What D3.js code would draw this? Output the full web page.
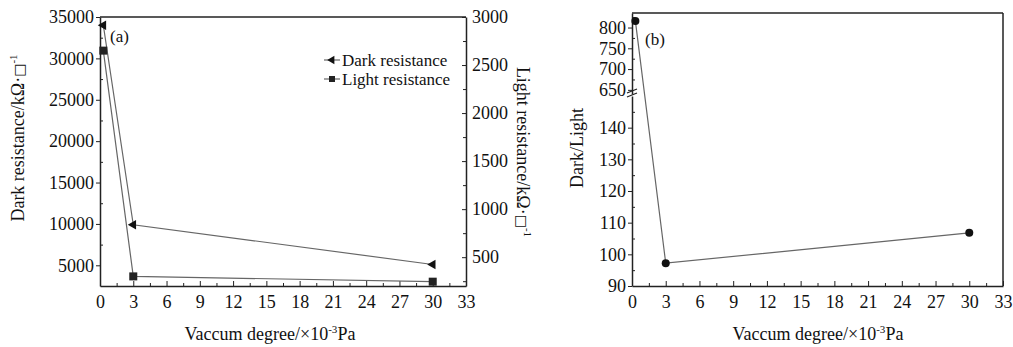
<!DOCTYPE html>
<html>
<head>
<meta charset="utf-8">
<script src="https://cdn.jsdelivr.net/npm/d3@7"></script>
<style>
body { margin: 0; background: #fff; }
text { font-family: "Liberation Serif", "DejaVu Serif", serif; fill: #111; }
.domain { stroke: #222; stroke-width: 1.5; }
.tick line { stroke: #222; stroke-width: 1; }
.sq { font-family: "DejaVu Sans", sans-serif; fill: #111; }
</style>
</head>
<body>
<script>
var width = 1013;
var height = 347;

// data
var vacuum = [0.3, 3, 30];
var darkRes = [34000, 9900, 5100];
var lightRes = [2650, 300, 245];
var ratio = [816, 97.2, 106.8];

var xTicks = [0, 3, 6, 9, 12, 15, 18, 21, 24, 27, 30, 33];
var darkTicks = [5000, 10000, 15000, 20000, 25000, 30000, 35000];
var lightTicks = [500, 1000, 1500, 2000, 2500, 3000];
var ratioTicksUp = [650, 700, 750, 800];
var ratioTicksLow = [90, 100, 110, 120, 130, 140];

var svg = d3.select("body").append("svg")
    .attr("width", width)
    .attr("height", height);

var lineColor = "#666";
var fs = "18px";
var fmt = d3.format("d");

function bigText(g) { g.selectAll("text").style("font-size", fs); }

// ---------- panel (a) ----------
var xA = d3.scaleLinear().domain([0, 33]).range([100, 466]);
var yDark = d3.scaleLinear().domain([2500, 35000]).range([286, 17]);
var yLight = d3.scaleLinear().domain([200, 3000]).range([286, 17]);

var gA = svg.append("g");

// frame top
gA.append("line").attr("x1", 100).attr("x2", 466).attr("y1", 17).attr("y2", 17)
    .attr("stroke", "#222").attr("stroke-width", 1.5);

// x axis
gA.append("g").attr("transform", "translate(0,286)")
    .call(d3.axisBottom(xA).tickValues(xTicks).tickFormat(fmt).tickSizeInner(-5).tickSizeOuter(0).tickPadding(9))
    .call(bigText);
gA.append("g").attr("transform", "translate(0,286)")
    .call(d3.axisBottom(xA).tickValues(d3.range(1.5, 33, 3)).tickSize(-3).tickFormat(""))
    .call(function(g) { g.select(".domain").remove(); });

// left axis
gA.append("g").attr("transform", "translate(100,0)")
    .call(d3.axisLeft(yDark).tickValues(darkTicks).tickFormat(fmt).tickSizeInner(4).tickSizeOuter(0).tickPadding(2))
    .call(bigText);
gA.append("g").attr("transform", "translate(100,0)")
    .call(d3.axisLeft(yDark).tickValues([7500, 12500, 17500, 22500, 27500, 32500]).tickSize(-3).tickFormat(""))
    .call(function(g) { g.select(".domain").remove(); });

// right axis
gA.append("g").attr("transform", "translate(466,0)")
    .call(d3.axisRight(yLight).tickValues(lightTicks).tickFormat(fmt).tickSizeInner(-4).tickSizeOuter(0).tickPadding(6))
    .call(bigText);
gA.append("g").attr("transform", "translate(466,0)")
    .call(d3.axisRight(yLight).tickValues([250, 750, 1250, 1750, 2250, 2750]).tickSize(-3).tickFormat(""))
    .call(function(g) { g.select(".domain").remove(); });

// lines
var darkPts = vacuum.map(function(v, i) { return [xA(v), yDark(darkRes[i])]; });
var lightPts = vacuum.map(function(v, i) { return [xA(v), yLight(lightRes[i])]; });
gA.append("path").attr("d", d3.line()(darkPts))
    .attr("fill", "none").attr("stroke", lineColor).attr("stroke-width", 1.2);
gA.append("path").attr("d", d3.line()(lightPts))
    .attr("fill", "none").attr("stroke", lineColor).attr("stroke-width", 1.2);

var tri = d3.symbol().type(d3.symbolTriangle).size(40);
gA.selectAll(".dark").data(darkPts).enter().append("path")
    .attr("class", "dark")
    .attr("d", tri)
    .attr("transform", function(d) { return "translate(" + d[0] + "," + d[1] + ") rotate(-90)"; })
    .attr("fill", "#111");
gA.selectAll(".light").data(lightPts).enter().append("rect")
    .attr("class", "light")
    .attr("x", function(d) { return d[0] - 4; })
    .attr("y", function(d) { return d[1] - 4; })
    .attr("width", 8).attr("height", 8)
    .attr("fill", "#222");

// legend
var legendLabels = ["Dark resistance", "Light resistance"];
var legend = gA.selectAll(".legend").data(legendLabels).enter().append("g")
    .attr("class", "legend")
    .attr("transform", function(d, i) { return "translate(324," + (60 + i * 19) + ")"; });
legend.append("line").attr("x1", 0).attr("x2", 16).attr("y1", 0).attr("y2", 0)
    .attr("stroke", lineColor).attr("stroke-width", 1.2);
legend.each(function(d, i) {
    var g = d3.select(this);
    if (i == 0) {
        g.append("path").attr("d", d3.symbol().type(d3.symbolTriangle).size(30))
            .attr("transform", "translate(8,0) rotate(-90)").attr("fill", "#111");
    } else {
        g.append("rect").attr("x", 5).attr("y", -3).attr("width", 6).attr("height", 6).attr("fill", "#222");
    }
});
legend.append("text").attr("x", 18).attr("y", 5.5)
    .style("font-size", "17px")
    .text(function(d) { return d; });

gA.append("text").attr("x", 110).attr("y", 42).style("font-size", "17px").text("(a)");

// axis titles
svg.append("text")
    .attr("transform", "translate(24,138) rotate(-90)")
    .attr("text-anchor", "middle")
    .style("font-size", fs)
    .html("Dark resistance/kΩ·<tspan class='sq' font-size='14px'>□</tspan><tspan dy='-7' font-size='11px'>-1</tspan>");
svg.append("text")
    .attr("transform", "translate(517,152) rotate(90)")
    .attr("text-anchor", "middle")
    .style("font-size", fs)
    .html("Light resistance/kΩ·<tspan class='sq' font-size='14px'>□</tspan><tspan dy='-7' font-size='11px'>-1</tspan>");
svg.append("text")
    .attr("x", 270).attr("y", 340)
    .attr("text-anchor", "middle")
    .style("font-size", fs)
    .html("Vaccum degree/×10<tspan dy='-7' font-size='11px'>-3</tspan><tspan dy='7'>Pa</tspan>");

// ---------- panel (b) ----------
var xB = d3.scaleLinear().domain([0, 33]).range([632, 1003]);
var yUp = d3.scaleLinear().domain([640, 835]).range([94, 13]);
var yLow = d3.scaleLinear().domain([90, 150]).range([286, 96]);

var gB = svg.append("g");

gB.append("line").attr("x1", 632).attr("x2", 1003).attr("y1", 13).attr("y2", 13)
    .attr("stroke", "#222").attr("stroke-width", 1.5);
gB.append("line").attr("x1", 1003).attr("x2", 1003).attr("y1", 13).attr("y2", 286)
    .attr("stroke", "#222").attr("stroke-width", 1.5);

gB.append("g").attr("transform", "translate(0,286)")
    .call(d3.axisBottom(xB).tickValues(xTicks).tickFormat(fmt).tickSizeInner(-5).tickSizeOuter(0).tickPadding(9))
    .call(bigText);
gB.append("g").attr("transform", "translate(0,286)")
    .call(d3.axisBottom(xB).tickValues(d3.range(1.5, 33, 3)).tickSize(-3).tickFormat(""))
    .call(function(g) { g.select(".domain").remove(); });

// broken left axis: upper part
gB.append("g").attr("transform", "translate(632,0)")
    .call(d3.axisLeft(yUp).tickValues(ratioTicksUp).tickFormat(fmt).tickSizeInner(4).tickSizeOuter(0).tickPadding(2))
    .call(bigText);
gB.append("g").attr("transform", "translate(632,0)")
    .call(d3.axisLeft(yUp).tickValues([675, 725, 775, 825]).tickSize(-3).tickFormat(""))
    .call(function(g) { g.select(".domain").remove(); });
// lower part
gB.append("g").attr("transform", "translate(632,0)")
    .call(d3.axisLeft(yLow).tickValues(ratioTicksLow).tickFormat(fmt).tickSizeInner(4).tickSizeOuter(0).tickPadding(2))
    .call(bigText);
gB.append("g").attr("transform", "translate(632,0)")
    .call(d3.axisLeft(yLow).tickValues([95, 105, 115, 125, 135, 145]).tickSize(-3).tickFormat(""))
    .call(function(g) { g.select(".domain").remove(); });

// break marks
[0, 4].forEach(function(o) {
    gB.append("line")
        .attr("x1", 627).attr("x2", 637)
        .attr("y1", 93 + o).attr("y2", 89 + o)
        .attr("stroke", "#222").attr("stroke-width", 1.2);
});

function yRatio(v) { return v > 600 ? yUp(v) : yLow(v); }
var ratioPts = vacuum.map(function(v, i) { return [xB(v), yRatio(ratio[i])]; });
gB.append("path").attr("d", d3.line()(ratioPts))
    .attr("fill", "none").attr("stroke", lineColor).attr("stroke-width", 1.2);
gB.selectAll(".ratio").data(ratioPts).enter().append("circle")
    .attr("class", "ratio")
    .attr("cx", function(d) { return d[0]; })
    .attr("cy", function(d) { return d[1]; })
    .attr("r", 4)
    .attr("fill", "#111");

gB.append("text").attr("x", 645).attr("y", 45).style("font-size", "17px").text("(b)");

svg.append("text")
    .attr("transform", "translate(583,148) rotate(-90)")
    .attr("text-anchor", "middle")
    .style("font-size", fs)
    .text("Dark/Light");
svg.append("text")
    .attr("x", 818).attr("y", 340)
    .attr("text-anchor", "middle")
    .style("font-size", fs)
    .html("Vaccum degree/×10<tspan dy='-7' font-size='11px'>-3</tspan><tspan dy='7'>Pa</tspan>");
</script>
</body>
</html>
